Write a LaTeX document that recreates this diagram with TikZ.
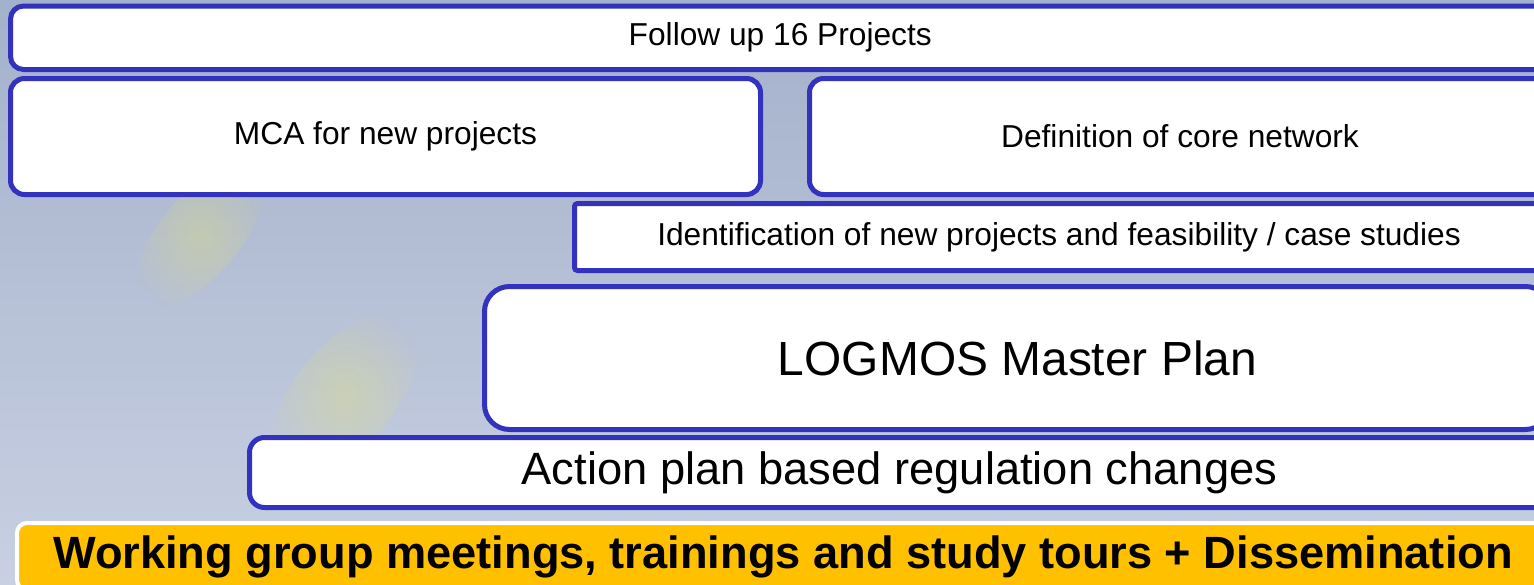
\documentclass[tikz,border=0pt]{standalone}
\usepackage{fontspec}
\setmainfont{Liberation Sans}
\usetikzlibrary{fadings}
\definecolor{bordblue}{RGB}{50,50,190}
\definecolor{bgtop}{RGB}{164,177,203}
\definecolor{bgbot}{RGB}{200,208,226}
\definecolor{gold}{RGB}{255,192,0}
\tikzfading[name=glowfade, inner color=transparent!78, outer color=transparent!100]
\tikzset{
  bluebox/.style={draw=bordblue, line width=5pt, fill=white, inner sep=0pt, align=center, text=black},
  smalltxt/.style={font=\fontsize{31.7}{38}\selectfont},
  bigtxt/.style={font=\fontsize{45.3}{54}\selectfont},
  goldbox/.style={draw=white, line width=4pt, fill=gold, inner sep=0pt, rounded corners=10pt,
    font=\fontsize{45.2}{54}\selectfont\bfseries, text=black}
}
\begin{document}
\begin{tikzpicture}[x=1pt,y=-1pt]
\path[use as bounding box] (0,0) rectangle (1534,584);
\clip (0,0) rectangle (1534,584);
% background
\shade[top color=bgtop, bottom color=bgbot] (0,0) rectangle (1534,584);
\fill[yellow!80!white, path fading=glowfade, rotate around={50:(200,235)}] (200,235) ellipse (90 and 40);
\fill[yellow!80!white, path fading=glowfade, rotate around={50:(345,395)}] (345,395) ellipse (100 and 50);
% boxes
\node[bluebox, smalltxt, rounded corners=13pt, minimum width=1539.5pt, minimum height=63.5pt]
  (follow) at (780.25,37.75) {Follow up 16 Projects};
\node[bluebox, smalltxt, rounded corners=14pt, minimum width=750pt, minimum height=116pt]
  (mca) at (385.5,136.5) {MCA for new projects};
\node[bluebox, smalltxt, rounded corners=14pt, minimum width=741pt, minimum height=116pt]
  (core) at (1180,136.5) {Definition of core network};
\node[bluebox, smalltxt, rounded corners=3pt, minimum width=969pt, minimum height=67pt]
  (ident) at (1059,237) {Identification of new projects and feasibility / case studies};
\node[bluebox, font=\fontsize{47.9}{57}\selectfont, rounded corners=25pt, minimum width=1066pt, minimum height=143pt]
  (master) at (1017.5,358) {LOGMOS Master Plan};
\node[bluebox, bigtxt, rounded corners=15pt, minimum width=1300pt, minimum height=70pt]
  (action) at (899.5,472.5) {Action plan based regulation changes};
\node[goldbox, minimum width=1532pt, minimum height=67pt]
  (work) at (783,556.5) {Working group meetings, trainings and study tours + Dissemination};
\end{tikzpicture}
\end{document}
